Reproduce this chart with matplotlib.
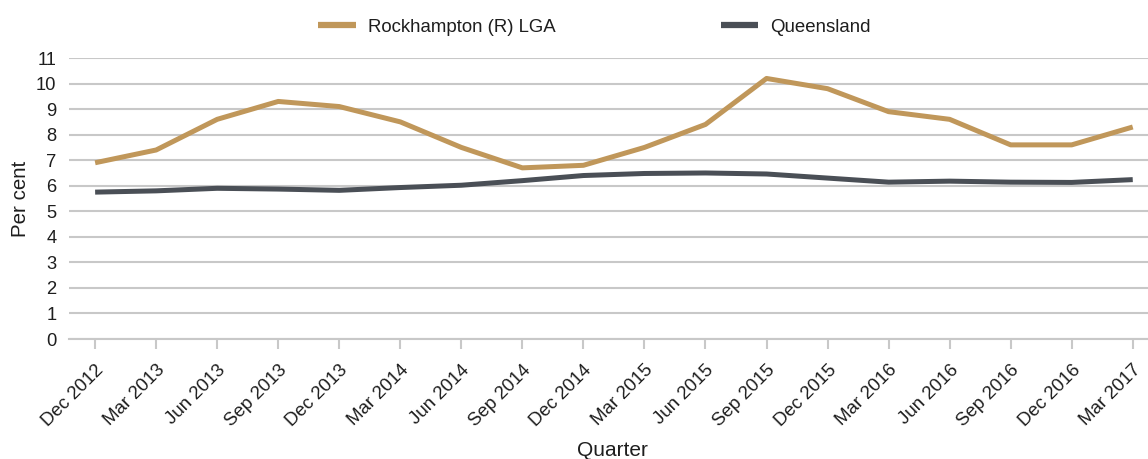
import matplotlib
matplotlib.use("Agg")
import matplotlib.pyplot as plt
import numpy as np

plt.rcParams['font.family'] = ['Liberation Sans', 'DejaVu Sans']

quarters = ["Dec 2012", "Mar 2013", "Jun 2013", "Sep 2013", "Dec 2013", "Mar 2014",
            "Jun 2014", "Sep 2014", "Dec 2014", "Mar 2015", "Jun 2015", "Sep 2015",
            "Dec 2015", "Mar 2016", "Jun 2016", "Sep 2016", "Dec 2016", "Mar 2017"]
rockhampton = [6.9, 7.4, 8.6, 9.3, 9.1, 8.5, 7.5, 6.7, 6.8, 7.5, 8.4, 10.2,
               9.8, 8.9, 8.6, 7.6, 7.6, 8.3]
queensland = [5.75, 5.8, 5.9, 5.87, 5.82, 5.93, 6.02, 6.2, 6.4, 6.48, 6.5, 6.46,
              6.3, 6.14, 6.18, 6.14, 6.13, 6.24]

tan = "#C0975A"
dark = "#4A4F56"
grid = "#C8C8C8"
txt = "#1E1E1E"

fig = plt.figure(figsize=(11.48, 4.59), dpi=100)
ax = fig.add_axes([0.060, 0.2614, 0.940, 0.6122])

x = np.arange(len(quarters))
ax.plot(x, rockhampton, color=tan, lw=3.6, label="Rockhampton (R) LGA", solid_capstyle="butt")
ax.plot(x, queensland, color=dark, lw=3.6, label="Queensland", solid_capstyle="butt")

ax.set_xlim(-0.43, len(quarters) - 1 + 0.25)
ax.set_ylim(0, 11)
ax.set_yticks(range(0, 12))
ax.yaxis.grid(True, color=grid, lw=1.5)
ax.set_axisbelow(True)
for s in ["top", "right", "left"]:
    ax.spines[s].set_visible(False)
ax.spines["bottom"].set_color(grid)
ax.spines["bottom"].set_linewidth(1.5)
ax.tick_params(axis="y", length=0, labelsize=13.2, pad=9, colors=txt)
ax.tick_params(axis="x", length=7, width=1.5, color=grid, labelsize=13.4, pad=9,
               labelcolor=txt)
ax.set_xticks(x)
ax.set_xticklabels(quarters, rotation=45, ha="right", rotation_mode="anchor")

ax.set_ylabel("Per cent", fontsize=14.8, labelpad=4, color=txt)
ax.set_xlabel("Quarter", fontsize=15, color=txt)
ax.xaxis.set_label_coords(0.504, -0.362)
ax.xaxis.label.set_va("top")

leg = fig.legend(loc="upper center", bbox_to_anchor=(0.518, 0.996), ncol=2, frameon=False,
                 fontsize=13.4, handlelength=2.0, columnspacing=8.9, handletextpad=0.65)
for l in leg.get_lines():
    l.set_linewidth(4.5)
for t in leg.get_texts():
    t.set_color(txt)

fig.savefig("out.png", dpi=100)
